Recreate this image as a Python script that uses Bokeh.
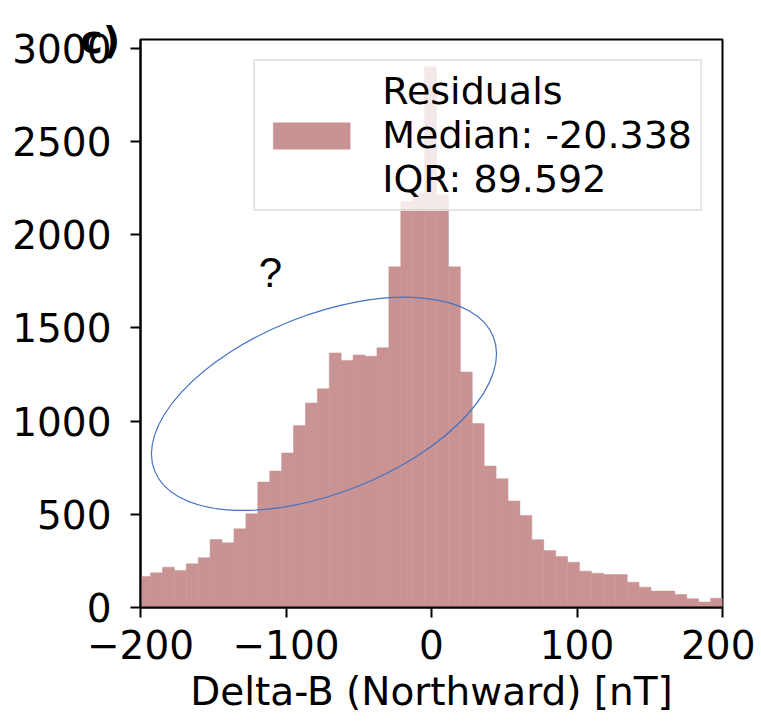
import numpy as np
from bokeh.plotting import figure
from bokeh.models import Range1d, FixedTicker, Label, Legend, LegendItem
from bokeh.embed import file_html
from bokeh.resources import INLINE

# ---- data ----
bin_start = -201.3
bin_width = 8.19
counts = [166, 186, 216, 199, 235, 267, 365, 347, 422, 503,
          673, 732, 829, 977, 1097, 1174, 1366, 1326, 1355, 1348,
          1394, 1828, 2180, 2225, 2902, 2215, 1828, 1264, 987, 759,
          691, 571, 494, 364, 306, 274, 243, 195, 184, 177,
          177, 136, 109, 88, 88, 70, 47, 29, 50]
x_ticks = [-200, -100, 0, 100, 200]
y_ticks = [0, 500, 1000, 1500, 2000, 2500, 3000]
legend_label = "Residuals\nMedian: -20.338\nIQR: 89.592"
x_label = "Delta-B (Northward) [nT]"
panel_label = "c)"

edges = bin_start + bin_width * np.arange(len(counts) + 1)

BAR = "#c99393"
FONT = "DejaVu Sans"

p = figure(width=755, height=724, output_backend="svg", toolbar_location=None,
           x_range=Range1d(-200, 200), y_range=Range1d(0, 3048),
           min_border_left=140, min_border_right=33, min_border_top=39,
           min_border_bottom=117)
p.background_fill_color = "white"
p.border_fill_color = "white"
p.outline_line_color = "black"
p.outline_line_width = 2
p.xgrid.visible = False
p.ygrid.visible = False

bars = p.quad(left=edges[:-1], right=edges[1:], top=counts, bottom=0,
              fill_color=BAR, line_color=BAR, line_width=0.5)

for ax in (p.xaxis[0], p.yaxis[0]):
    ax.axis_line_color = "black"
    ax.axis_line_width = 2
    ax.major_tick_line_color = "black"
    ax.major_tick_line_width = 2
    ax.major_tick_out = 10
    ax.major_tick_in = 0
    ax.minor_tick_line_color = None
    ax.major_label_text_font = FONT
    ax.major_label_text_font_size = "39px"
    ax.major_label_text_color = "black"

p.xaxis.ticker = FixedTicker(ticks=x_ticks)
p.yaxis.ticker = FixedTicker(ticks=y_ticks)
p.xaxis.major_label_overrides = {t: (str(t).replace("-", "\u2212")) for t in x_ticks}
p.yaxis.major_label_overrides = {t: str(t) for t in y_ticks}
p.xaxis.major_label_standoff = 12
p.yaxis.major_label_standoff = 19
p.xaxis.axis_label = x_label
p.xaxis.axis_label_text_font = FONT
p.xaxis.axis_label_text_font_size = "39px"
p.xaxis.axis_label_text_font_style = "normal"
p.xaxis.axis_label_text_color = "black"
p.xaxis.axis_label_standoff = 7

# panel letter drawn as the (horizontal) label of the y axis, at its top end
p.yaxis.axis_label = panel_label
p.yaxis.axis_label_orientation = "horizontal"
p.yaxis.axis_label_align = "end"
p.yaxis.axis_label_standoff = -111
p.yaxis.axis_label_text_baseline = "alphabetic"
p.yaxis.axis_label_text_font = FONT
p.yaxis.axis_label_text_font_size = "38px"
p.yaxis.axis_label_text_font_style = "bold"
p.yaxis.axis_label_text_color = "black"

legend = Legend(items=[LegendItem(label=legend_label, renderers=[bars])],
                location="top_right", margin=20, padding=8,
                glyph_width=96, glyph_height=33, label_standoff=23,
                label_width=309,
                label_text_font=FONT, label_text_font_size="38px",
                label_text_line_height=1.5, label_text_color="black",
                border_line_color="#cccccc", border_line_width=2,
                background_fill_color="white", background_fill_alpha=0.8)
p.add_layout(legend)

# hand-drawn annotation: ellipse and question mark
p.ellipse(x=[-73.9], y=[1093], width=[250.4], height=[957], angle=21.6,
          angle_units="deg", fill_color=None, line_color="#4472c4", line_width=1.2)
p.add_layout(Label(x=-110.7, y=1795, text="?", text_align="center",
                   text_baseline="alphabetic", text_font="Liberation Sans",
                   text_font_size="42px", text_color="black"))

open("out.html", "w").write(file_html(p, INLINE))
